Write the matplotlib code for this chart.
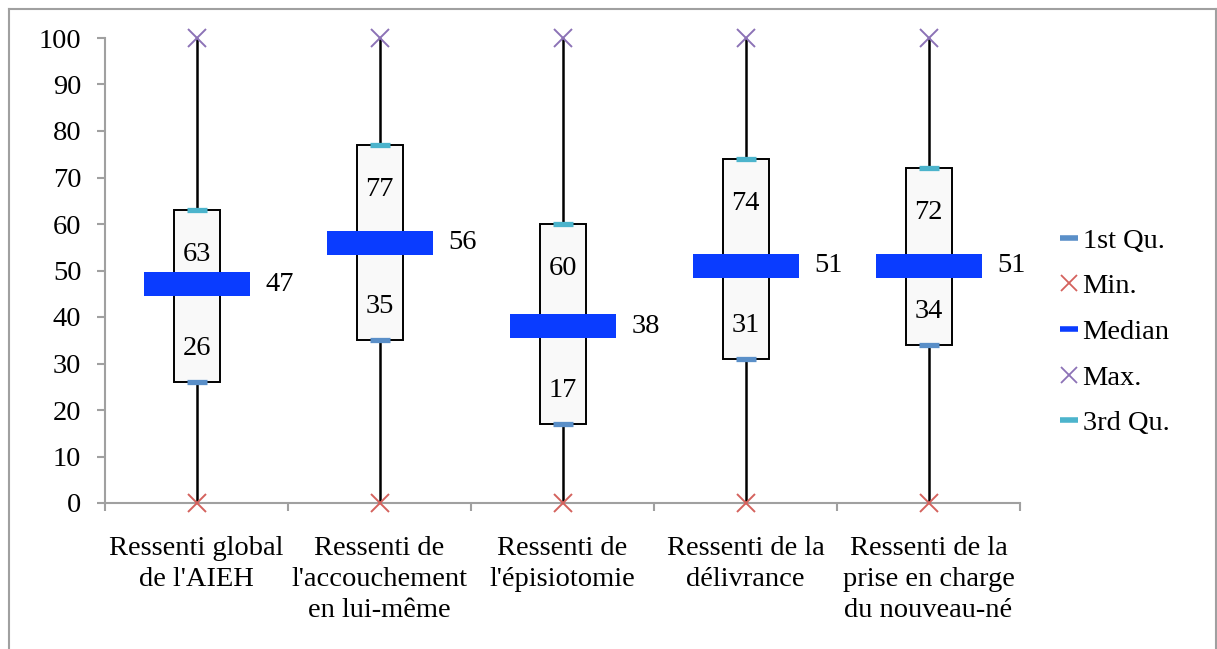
import matplotlib
matplotlib.use("Agg")
import matplotlib.pyplot as plt
from matplotlib.lines import Line2D

categories = [
    "Ressenti global\nde l'AIEH",
    "Ressenti de\nl'accouchement\nen lui-même",
    "Ressenti de\nl'épisiotomie",
    "Ressenti de la\ndélivrance",
    "Ressenti de la\nprise en charge\ndu nouveau-né",
]
min_vals = [0, 0, 0, 0, 0]
q1_vals = [26, 35, 17, 31, 34]
median_vals = [47, 56, 38, 51, 51]
q3_vals = [63, 77, 60, 74, 72]
max_vals = [100, 100, 100, 100, 100]
yticks = [0, 10, 20, 30, 40, 50, 60, 70, 80, 90, 100]

plt.rcParams["font.family"] = ["Liberation Serif", "DejaVu Serif"]

c_q1 = "#5a8fc8"
c_min = "#d4625d"
c_med = "#0a3cff"
c_max = "#8c72b6"
c_q3 = "#4cb4cc"
grey = "#a0a0a0"
fs = 20.5

W, H = 1217, 649
fig = plt.figure(figsize=(W / 100, H / 100), dpi=100)
ax = fig.add_axes([105 / W, (H - 503) / H, 915 / W, 465 / H])

x = list(range(len(categories)))
ppu = 465 / 100  # pixels per y unit

# whiskers
ax.vlines(x, min_vals, max_vals, color="black", lw=1.8, zorder=1)
# boxes
heights = [b - a for a, b in zip(q1_vals, q3_vals)]
ax.bar(x, heights, bottom=q1_vals, width=46 / 183, color="#f9f9f9",
       edgecolor="black", linewidth=1.4, zorder=2)
# median bars
mh = 24 / ppu
ax.bar(x, [mh] * len(x), bottom=[m - mh / 2 for m in median_vals],
       width=106 / 183, color=c_med, linewidth=0, zorder=3)
# quartile dashes
ax.plot(x, q1_vals, ls="none", marker="_", ms=15, mew=3.8, color=c_q1, zorder=4)
ax.plot(x, q3_vals, ls="none", marker="_", ms=15, mew=3.8, color=c_q3, zorder=4)
# min / max crosses
ax.plot(x, min_vals, ls="none", marker="x", ms=13, mew=1.4, color=c_min, zorder=5, clip_on=False)
ax.plot(x, max_vals, ls="none", marker="x", ms=13, mew=1.4, color=c_max, zorder=5, clip_on=False)

# data labels
for xi, q1, med, q3 in zip(x, q1_vals, median_vals, q3_vals):
    ax.annotate(str(q3), (xi, q3), xytext=(0, -32), textcoords="offset points",
                ha="center", va="center", fontsize=fs, zorder=6)
    ax.annotate(str(q1), (xi, q1), xytext=(0, 24), textcoords="offset points",
                ha="center", va="center", fontsize=fs, zorder=6)
    ax.annotate(str(med), (xi, med), xytext=(60, 0), textcoords="offset points",
                ha="center", va="center", fontsize=fs, zorder=6)

ax.set_xlim(-0.5, len(x) - 0.5)
ax.set_ylim(0, 100)
ax.set_yticks(yticks)
ax.tick_params(axis="y", labelsize=fs, length=6, width=1.5, color=grey, pad=11)

ax.set_xticks([i - 0.5 for i in range(len(x) + 1)])
ax.set_xticklabels([])
ax.set_xticks(x, minor=True)
ax.set_xticklabels(categories, minor=True, fontsize=fs, linespacing=1.32)
ax.tick_params(axis="x", which="major", length=6, width=1.5, color=grey, direction="out")
ax.tick_params(axis="x", which="minor", length=0, pad=24)

for s in ["top", "right"]:
    ax.spines[s].set_visible(False)
for s in ["left", "bottom"]:
    ax.spines[s].set_color(grey)
    ax.spines[s].set_linewidth(1.5)

handles = [
    Line2D([], [], ls="none", marker="_", ms=13, mew=4, color=c_q1),
    Line2D([], [], ls="none", marker="x", ms=11, mew=1.3, color=c_min),
    Line2D([], [], ls="none", marker="_", ms=13, mew=4, color=c_med),
    Line2D([], [], ls="none", marker="x", ms=11, mew=1.3, color=c_max),
    Line2D([], [], ls="none", marker="_", ms=13, mew=4, color=c_q3),
]
labels = ["1st Qu.", "Min.", "Median", "Max.", "3rd Qu."]
fig.legend(handles, labels, loc="center left", bbox_to_anchor=(1047 / W, (H - 332) / H),
           frameon=False, fontsize=fs, handlelength=0.75, handletextpad=0.1,
           labelspacing=0.69, borderaxespad=0)

# outer chart frame
fig.add_artist(Line2D([8.5 / W, 8.5 / W], [0, (H - 9) / H], color=grey, lw=1.5))
fig.add_artist(Line2D([8.5 / W, 1215.5 / W], [(H - 9) / H, (H - 9) / H], color=grey, lw=1.5))
fig.add_artist(Line2D([1215.5 / W, 1215.5 / W], [0, (H - 9) / H], color=grey, lw=1.5))

fig.savefig("out.png", dpi=100)
